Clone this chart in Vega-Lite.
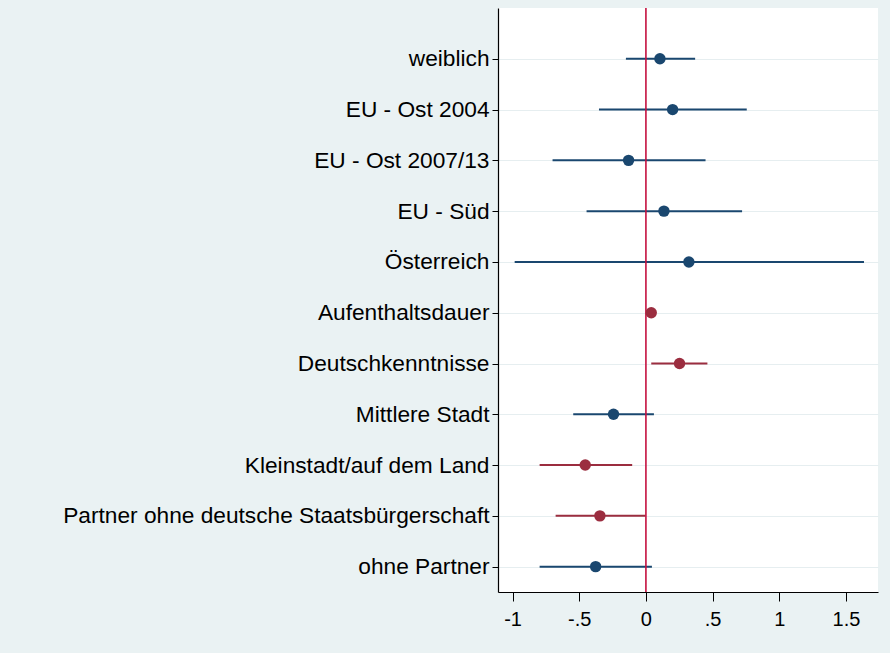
{
  "$schema": "https://vega.github.io/schema/vega-lite/v6.json",
  "width": 380,
  "height": 584,
  "autosize": {"type": "none"},
  "padding": {"left": 498, "top": 8, "right": 12, "bottom": 61},
  "background": "#eaf2f3",
  "config": {
    "view": {"stroke": null, "fill": "#ffffff"},
    "font": "Liberation Sans",
    "axis": {"labelFont": "Liberation Sans", "labelColor": "#000000", "domainColor": "#000000", "tickColor": "#000000", "domainWidth": 1.2, "tickWidth": 1, "labelLimit": 0, "labelOverlap": false}
  },
  "data": {
    "values": [
      {"label": "weiblich", "b": 0.105, "lo": -0.15, "hi": 0.369, "sig": "n"},
      {"label": "EU - Ost 2004", "b": 0.2, "lo": -0.352, "hi": 0.756, "sig": "n"},
      {"label": "EU - Ost 2007/13", "b": -0.13, "lo": -0.7, "hi": 0.447, "sig": "n"},
      {"label": "EU - Süd", "b": 0.135, "lo": -0.445, "hi": 0.721, "sig": "n"},
      {"label": "Österreich", "b": 0.322, "lo": -0.984, "hi": 1.635, "sig": "n"},
      {"label": "Aufenthaltsdauer", "b": 0.04, "lo": 0.03, "hi": 0.05, "sig": "s"},
      {"label": "Deutschkenntnisse", "b": 0.252, "lo": 0.04, "hi": 0.461, "sig": "s"},
      {"label": "Mittlere Stadt", "b": -0.243, "lo": -0.545, "hi": 0.06, "sig": "n"},
      {"label": "Kleinstadt/auf dem Land", "b": -0.455, "lo": -0.797, "hi": -0.103, "sig": "s"},
      {"label": "Partner ohne deutsche Staatsbürgerschaft", "b": -0.345, "lo": -0.677, "hi": -0.003, "sig": "s"},
      {"label": "ohne Partner", "b": -0.377, "lo": -0.797, "hi": 0.045, "sig": "n"}
    ]
  },
  "encoding": {
    "y": {
      "field": "label", "type": "nominal", "sort": null,
      "scale": {"type": "point", "padding": 0.75, "align": 0.667},
      "axis": {"title": null, "tickSize": 6, "labelPadding": 3, "labelFontSize": 22.7, "grid": true, "gridColor": "#e6eef0", "gridWidth": 1.2}
    }
  },
  "layer": [
    {
      "mark": {"type": "rule", "strokeWidth": 2},
      "encoding": {
        "x": {
          "field": "lo", "type": "quantitative",
          "scale": {"domain": [-1.109, 1.74], "nice": false, "zero": false},
          "axis": {"title": null, "values": [-1, -0.5, 0, 0.5, 1, 1.5], "labelExpr": "replace(toString(datum.value), '0.', '.')", "tickSize": 9, "labelPadding": 8, "labelFontSize": 20, "grid": false}
        },
        "x2": {"field": "hi"},
        "color": {"field": "sig", "type": "nominal", "scale": {"domain": ["n", "s"], "range": ["#1a476f", "#9b2d3f"]}, "legend": null}
      }
    },
    {
      "data": {"values": [{"zero": 0}]},
      "mark": {"type": "rule", "color": "#c4103f", "strokeWidth": 1.6},
      "encoding": {
        "x": {"field": "zero", "type": "quantitative"},
        "y": null
      }
    },
    {
      "mark": {"type": "circle", "size": 130, "opacity": 1},
      "encoding": {
        "x": {"field": "b", "type": "quantitative"},
        "color": {"field": "sig", "type": "nominal", "legend": null}
      }
    }
  ]
}
